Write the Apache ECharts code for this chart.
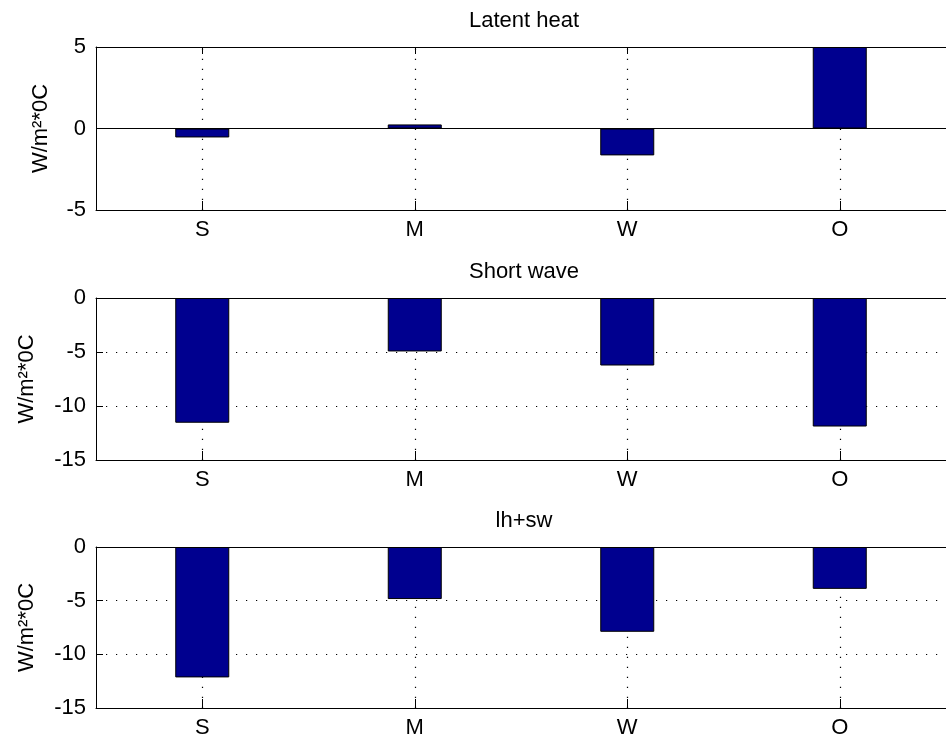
<!DOCTYPE html>
<html>
<head>
<meta charset="utf-8">
<script src="https://cdn.jsdelivr.net/npm/echarts@6/dist/echarts.min.js"></script>
<style>
html,body{margin:0;padding:0;background:#fff;}
#chart{width:946px;height:739px;}
</style>
</head>
<body>
<div id="chart"></div>
<script>
const categories = ['S', 'M', 'W', 'O'];
const latentHeat = [-0.55, 0.25, -1.65, 5.0];
const shortWave = [-11.55, -4.95, -6.25, -11.9];
const lhPlusSw = [-12.15, -4.85, -7.9, -3.9];
const panelTitles = ['Latent heat', 'Short wave', 'lh+sw'];
const yAxisLabel = 'W/m\u00b2*0C';
const yRanges = [[-5, 5], [-15, 0], [-15, 0]];
const yInterval = 5;

const FONT = 'Liberation Sans, Arial, sans-serif';
const FS = 22;
const panels = [latentHeat, shortWave, lhPlusSw];
const tops = [47, 298, 547];
const heights = [163, 162, 163];
const nameGaps = [44, 58, 58];
const gridLeft = 96;
const gridWidth = 858;

const chart = echarts.init(document.getElementById('chart'), null, {renderer: 'canvas'});

const option = {
  animation: false,
  backgroundColor: '#ffffff',
  title: panelTitles.map((t, i) => ({
    text: t,
    left: gridLeft + 428,
    top: tops[i] - 37,
    padding: 0,
    textAlign: 'center',
    textStyle: {fontFamily: FONT, fontSize: FS, fontWeight: 'normal', color: '#000'}
  })),
  grid: tops.map((t, i) => ({left: gridLeft, top: t, width: gridWidth, height: heights[i], containLabel: false})),
  xAxis: [],
  yAxis: [],
  series: []
};

panels.forEach((vals, i) => {
  option.xAxis.push({
    type: 'category', gridIndex: i, data: categories, position: 'bottom',
    axisLine: {show: true, onZero: false, lineStyle: {color: '#000', width: 1}},
    axisTick: {show: true, inside: true, alignWithLabel: true, length: 9, lineStyle: {color: '#000', width: 1}},
    axisLabel: {show: true, margin: 9, color: '#000', fontFamily: FONT, fontSize: FS},
    splitLine: {show: false}
  });
  option.xAxis.push({
    type: 'category', gridIndex: i, data: categories, position: 'top',
    axisLine: {show: true, onZero: false, lineStyle: {color: '#000', width: 1}},
    axisTick: {show: true, inside: true, alignWithLabel: true, length: 7, lineStyle: {color: '#000', width: 1}},
    axisLabel: {show: false},
    splitLine: {show: false}
  });
  option.yAxis.push({
    type: 'value', gridIndex: i, min: yRanges[i][0], max: yRanges[i][1], interval: yInterval,
    name: yAxisLabel, nameLocation: 'middle', nameGap: nameGaps[i], nameRotate: 90,
    nameTextStyle: {fontFamily: FONT, fontSize: FS, color: '#000'},
    axisLine: {show: true, onZero: false, lineStyle: {color: '#000', width: 1}},
    axisTick: {show: true, inside: true, length: 7, lineStyle: {color: '#000', width: 1}},
    axisLabel: {show: true, margin: 10, color: '#000', fontFamily: FONT, fontSize: FS},
    splitLine: {show: true, lineStyle: {color: '#000', width: 1.2, type: [1.2, 8.8]}}
  });
  const markData = categories.map(c => ({xAxis: c}));
  if (yRanges[i][0] < 0 && yRanges[i][1] > 0) {
    markData.push({yAxis: 0, lineStyle: {type: 'solid', color: '#000', width: 1}});
  }
  option.series.push({
    type: 'bar',
    xAxisIndex: i * 2, yAxisIndex: i,
    data: vals,
    barWidth: 54,
    z: 3,
    itemStyle: {color: '#00008F', borderColor: '#000', borderWidth: 1},
    markLine: {
      silent: true, symbol: 'none', z: 1,
      label: {show: false},
      lineStyle: {color: '#000', width: 1.2, type: [1.2, 8.8]},
      data: markData
    }
  });
});

chart.setOption(option);
</script>
</body>
</html>
